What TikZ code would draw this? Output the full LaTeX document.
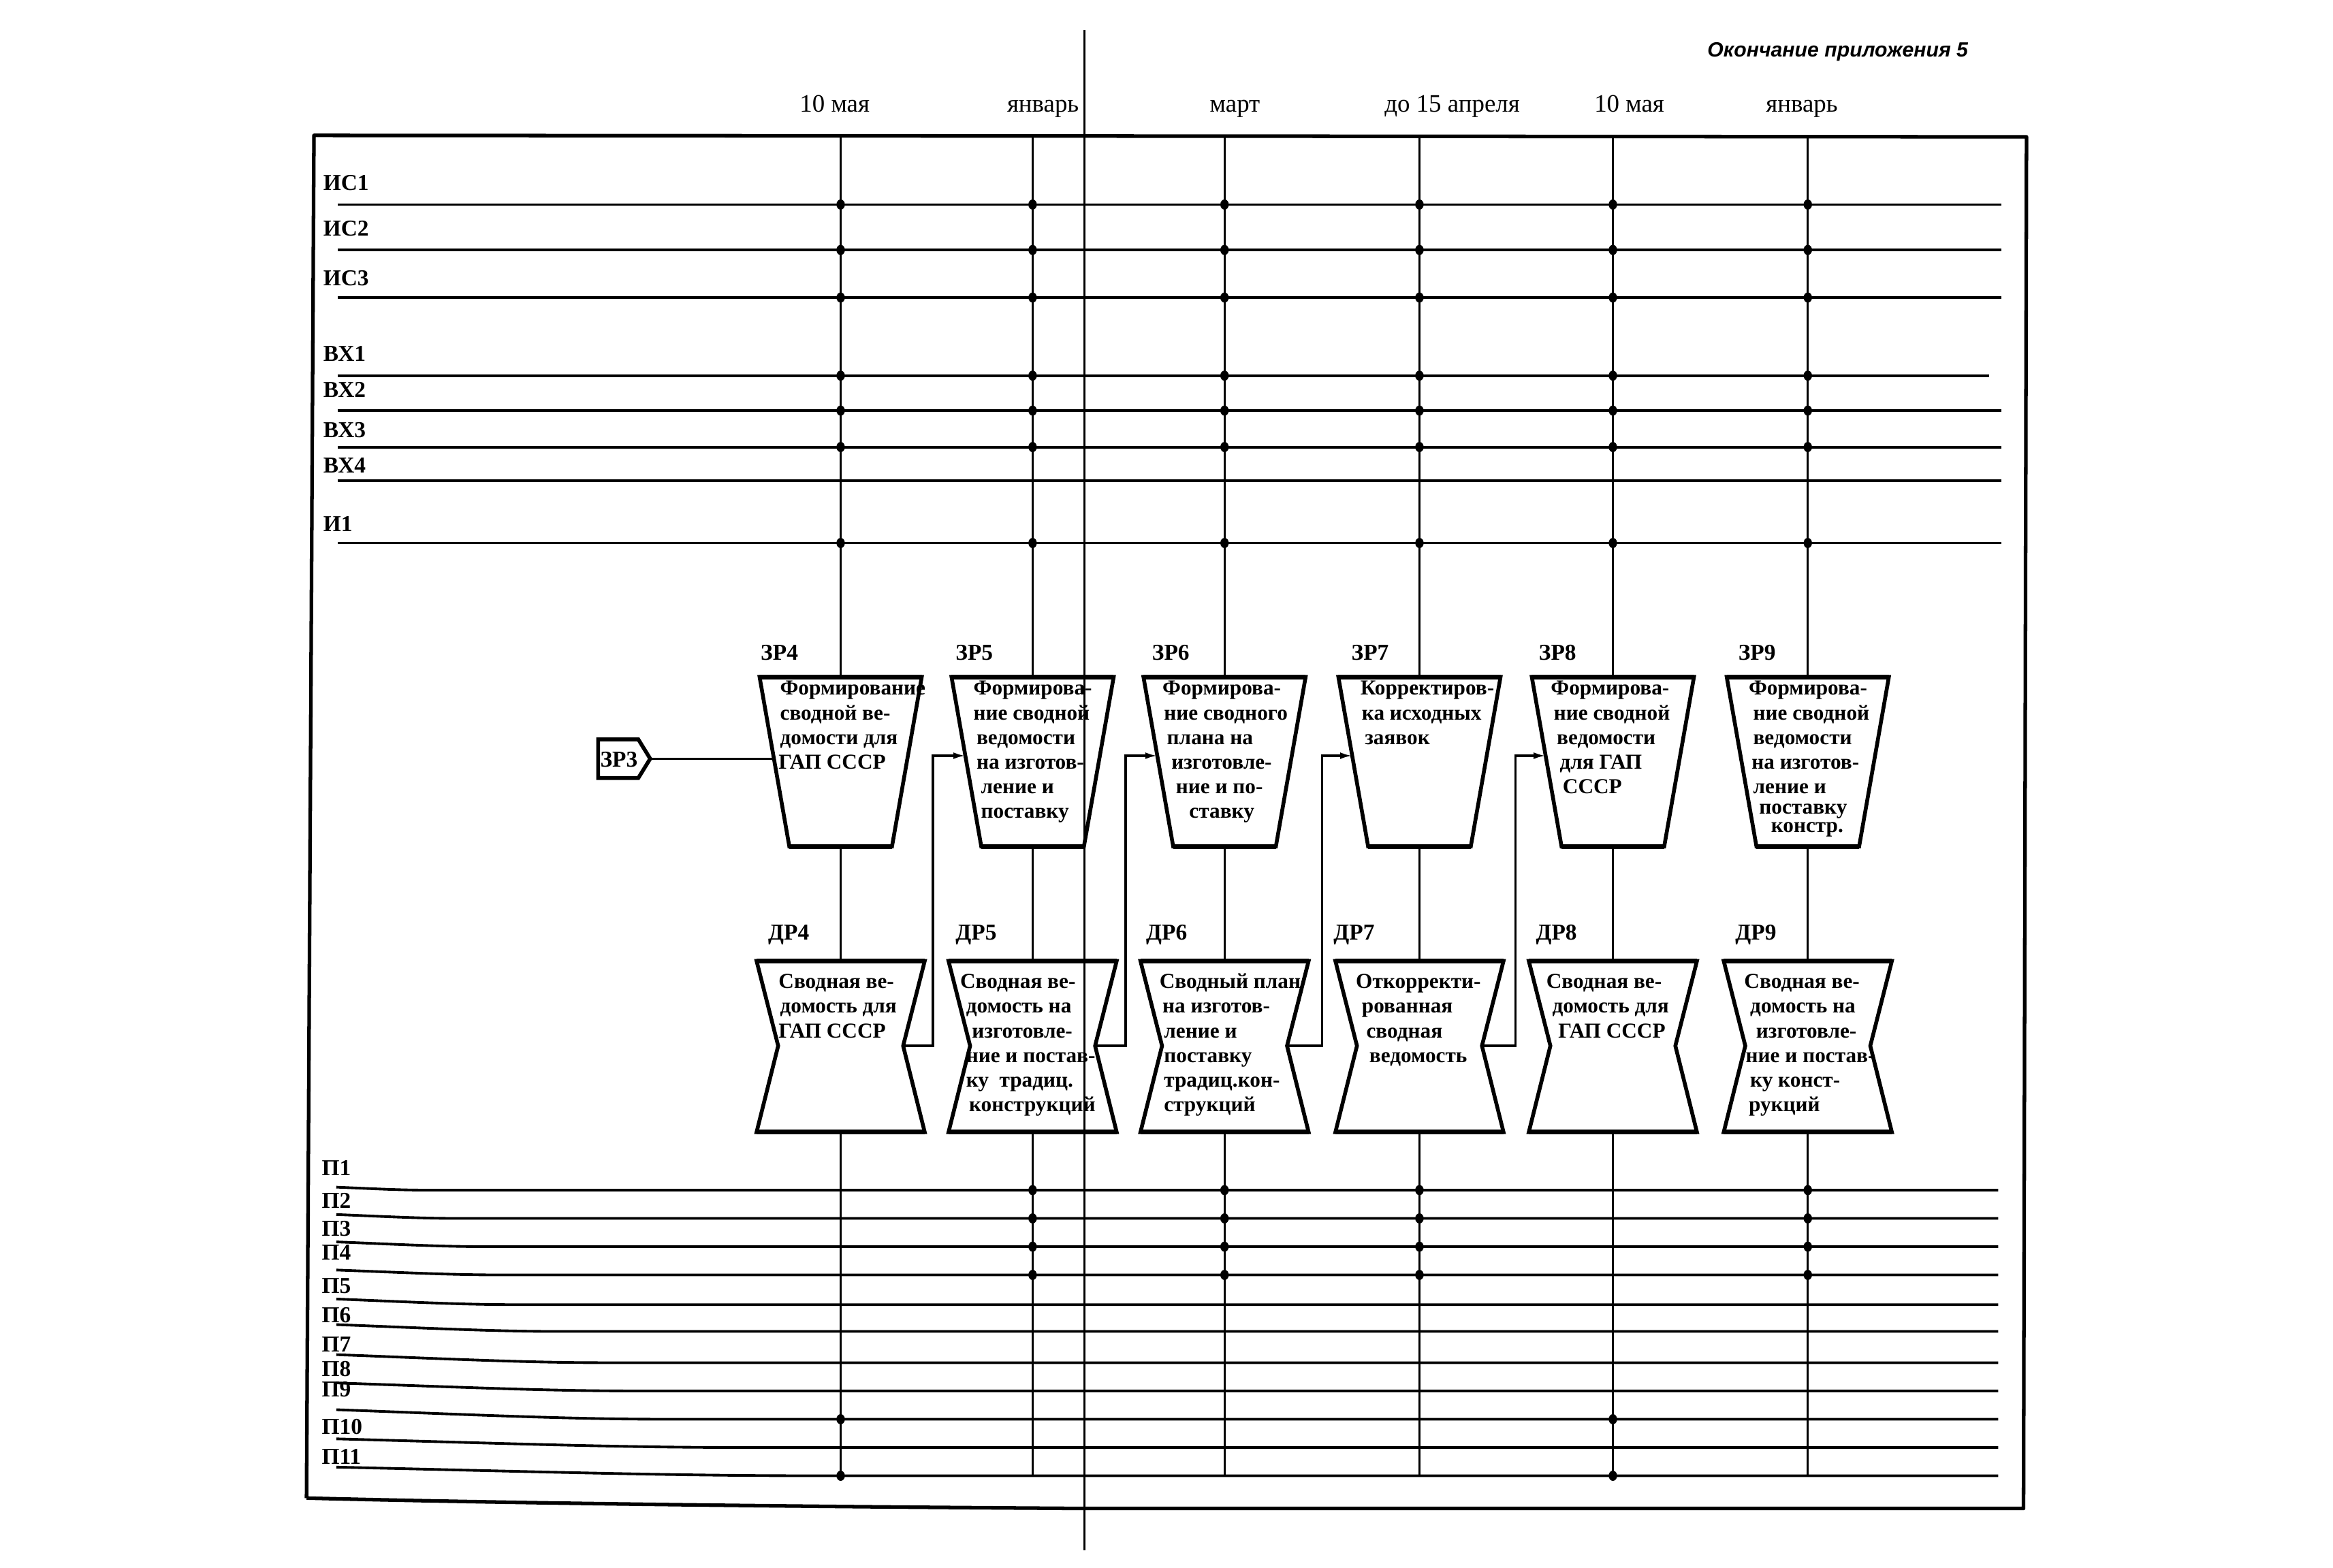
\documentclass[tikz,border=0pt]{standalone}
\usepackage{fontspec}
\setmainfont{Liberation Serif}
\newfontfamily\titlefont{Liberation Sans}
\usetikzlibrary{arrows.meta}

\newcommand\zrbox[2]{%
  \coordinate (#1-n) at (#2,455);
  \coordinate (#1-s) at (#2,569);
  \coordinate (#1-w) at (#2-45.2,508);
  \draw[boxline] (#2-54.5,455) -- (#2+54.5,455) -- (#2+34.5,569) -- (#2-34.5,569) -- cycle;
  \draw[boxedge] (#2-54.5,455) -- (#2+54.5,455);
  \draw[boxedge] (#2-34.5,569) -- (#2+34.5,569);
}
\newcommand\drbox[2]{%
  \coordinate (#1-n) at (#2,646);
  \coordinate (#1-s) at (#2,761);
  \coordinate (#1-e) at (#2+42,703);
  \draw[boxline] (#2-56.5,646) -- (#2+56.5,646) -- (#2+42,703) -- (#2+56.5,761) -- (#2-56.5,761) -- (#2-42,703) -- cycle;
  \draw[boxedge] (#2-56.5,646) -- (#2+56.5,646);
  \draw[boxedge] (#2-56.5,761) -- (#2+56.5,761);
}

\begin{document}
\begin{tikzpicture}[x=0.2185mm,y=-0.2185mm,
  hline/.style={line width=1.1pt},
  vline/.style={line width=0.85pt},
  frame/.style={line width=1.5pt, line join=round},
  boxline/.style={line width=1.6pt, line join=miter},
  boxedge/.style={line width=1.9pt},
  conn/.style={line width=0.9pt},
  arr/.style={conn, -{Latex[length=5pt,width=2.8pt]}},
  jdot/.style={fill=black},
  lbl/.style={font=\bfseries\fontsize{9.5}{12}\selectfont, inner sep=0pt, anchor=base west},
  btxt/.style={font=\bfseries\fontsize{8.9}{11}\selectfont, inner sep=0pt, anchor=base west},
  date/.style={font=\fontsize{10.5}{12}\selectfont, inner sep=0pt, anchor=base},
]
\useasboundingbox (0,0) rectangle (1568,1054);

% title and dates
\node[font={\titlefont\bfseries\itshape\fontsize{8.6}{10}\selectfont}, anchor=base east, inner sep=0pt] (title) at (1323,38) {Окончание приложения 5};
\node[date] (d1) at (561,75.5) {10 мая};
\node[date] (d2) at (701,75.5) {январь};
\node[date] (d3) at (830,75.5) {март};
\node[date] (d4) at (976,75.5) {до 15 апреля};
\node[date] (d5) at (1095,75.5) {10 мая};
\node[date] (d6) at (1211,75.5) {январь};

% frame
\draw[frame] (206,1007) -- (211,91) -- (1362,92) -- (1360,1014) -- (728,1014)
  .. controls (500,1012.5) and (320,1010) .. (206,1007);

% fold line
\draw[vline] (729,20) -- (729,1042);

% upper lines
\foreach \y/\xe in {137.5/1345, 168/1345, 200/1345, 252.5/1337, 276/1345, 300.5/1345, 323/1345, 365/1345}
  \draw[hline] (227,\y) -- (\xe,\y);
\foreach \y/\tx [count=\i] in {128/ИС1, 158.5/ИС2, 192/ИС3, 243/ВХ1, 267/ВХ2, 294/ВХ3, 318/ВХ4, 357/И1}
  \node[lbl] (ul\i) at (217,\y) {\tx};

% lower lines
\foreach \y/\d/\L in {800/2/60, 819/2.6/80, 838/3.2/100, 857/3.3/110, 877/3.8/120, 895/4.6/150, 916/5.4/180, 935/5.4/200, 954/6.4/220, 973/5.8/270, 992/5.8/320}
  \draw[hline] (226,\y-\d) .. controls (226+0.4*\L,\y-0.5*\d) and (226+0.7*\L,\y) .. (226+\L,\y) -- (1343,\y);
\foreach \y/\tx [count=\i] in {790/П1, 812/П2, 831/П3, 847/П4, 869.5/П5, 889/П6, 908.5/П7, 925/П8, 939/П9, 964/П10, 984/П11}
  \node[lbl] (ll\i) at (216,\y) {\tx};

% boxes and columns
\foreach \n/\c in {4/565,5/694,6/823,7/954,8/1084,9/1215} {
  \zrbox{zr\n}{\c}
  \drbox{dr\n}{\c}
  \coordinate (top\n) at (\c,92);
  \coordinate (bot\n) at (\c,992);
  \draw[vline] (top\n) -- (zr\n-n);
  \draw[vline] (zr\n-s) -- (dr\n-n);
  \draw[vline] (dr\n-s) -- (bot\n);
}

% junction dots
\foreach \c in {565,694,823,954,1084,1215}
  \foreach \y in {137.5,168,200,252.5,276,300.5,365}
    \fill[jdot] (\c,\y) ellipse [x radius=0.62mm, y radius=0.75mm];
\foreach \c in {694,823,954,1215}
  \foreach \y in {800,819,838,857}
    \fill[jdot] (\c,\y) ellipse [x radius=0.62mm, y radius=0.75mm];
\foreach \c in {565,1084}
  \foreach \y in {954,992}
    \fill[jdot] (\c,\y) ellipse [x radius=0.62mm, y radius=0.75mm];

% box labels
\foreach \x/\tx [count=\i] in {511/ЗР4, 642/ЗР5, 774/ЗР6, 908/ЗР7, 1034/ЗР8, 1168/ЗР9}
  \node[lbl] (zl\i) at (\x,443.5) {\tx};
\foreach \x/\tx [count=\i] in {516/ДР4, 642/ДР5, 770/ДР6, 896/ДР7, 1032/ДР8, 1166/ДР9}
  \node[lbl] (dl\i) at (\x,632) {\tx};

% ZR3 tag
\draw[boxline] (402,497) -- (429,497) -- (437,510) -- (429,523) -- (402,523) -- cycle;
\node[lbl, anchor=center] (zr3) at (416,510.5) {ЗР3};
\coordinate (zr3tip) at (437,510);
\draw[conn] (zr3tip) -- (zr3tip -| zr4-w);

% connectors DR -> ZR
\coordinate (k4) at (627,703);
\coordinate (k5) at (756.5,703);
\coordinate (k6) at (888.5,703);
\coordinate (k7) at (1018.5,703);
\draw[arr] (dr4-e) -- (k4) |- (zr5-w);
\draw[arr] (dr5-e) -- (k5) |- (zr6-w);
\draw[arr] (dr6-e) -- (k6) |- (zr7-w);
\draw[arr] (dr7-e) -- (k7) |- (zr8-w);

% box texts
\foreach \x/\y/\tx [count=\i] in {
  524/467/Формирование, 524/484/сводной ве-, 524/500.5/домости для, 523/517/ГАП СССР,
  654/467/Формирова-, 654/484/ние сводной, 656/500.5/ведомости, 656/517/на изготов-, 659/533.5/ление и, 659/550/поставку,
  781/467/Формирова-, 782/484/ние сводного, 784/500.5/плана на, 787/517/изготовле-, 790/533.5/ние и по-, 799/550/ставку,
  914/467/Корректиров-, 915/484/ка исходных, 917/500.5/заявок,
  1042/467/Формирова-, 1044/484/ние сводной, 1046/500.5/ведомости, 1048/517/для ГАП, 1050/533.5/СССР,
  1175/467/Формирова-, 1178/484/ние сводной, 1178/500.5/ведомости, 1177/517/на изготов-, 1178/533.5/ление и, 1182/547/поставку, 1190/559.5/констр.,
  523/664.5/Сводная ве-, 524/681/домость для, 523/697.5/ГАП СССР,
  645/664.5/Сводная ве-, 649/681/домость на, 653/697.5/изготовле-, 649/714/ние и постав-, 649/730.5/ку~~традиц., 651/747/конструкций,
  779/664.5/Сводный план, 781/681/на изготов-, 782/697.5/ление и, 782/714/поставку, 782/730.5/традиц.кон-, 782/747/струкций,
  911/664.5/Откорректи-, 915/681/рованная, 918/697.5/сводная, 920/714/ведомость,
  1039/664.5/Сводная ве-, 1043/681/домость для, 1047/697.5/ГАП СССР,
  1172/664.5/Сводная ве-, 1176/681/домость на, 1180/697.5/изготовле-, 1173/714/ние и постав-, 1176/730.5/ку конст-, 1175/747/рукций}
  \node[btxt] (bt\i) at (\x,\y) {\tx};
\end{tikzpicture}
\end{document}
